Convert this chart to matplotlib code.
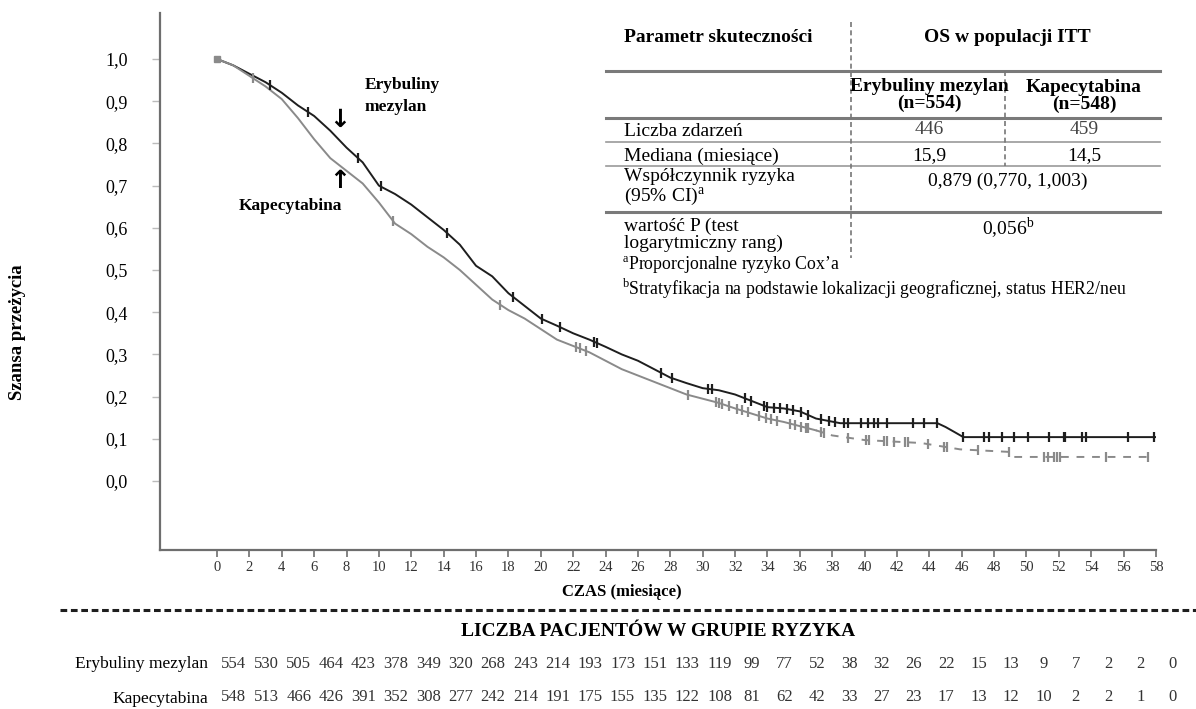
import numpy as np
import matplotlib
matplotlib.use("Agg")
import matplotlib.pyplot as plt
from matplotlib.lines import Line2D
from matplotlib.transforms import blended_transform_factory

plt.rcParams['font.family'] = ['Liberation Serif', 'DejaVu Serif']
plt.rcParams['mathtext.fontset'] = 'custom'
plt.rcParams['mathtext.rm'] = 'Liberation Serif'

# 1. Data
# Erybuliny mezylan (black)
eri_t = [0, 1, 2, 3, 4, 5, 6, 7, 8, 9, 10, 11, 12, 13, 14, 15, 16, 17, 18, 19,
         20, 21, 22, 23, 24, 25, 26, 27, 28, 29, 30, 31, 32, 33, 34, 35, 36, 37,
         38.5, 44.5, 45.0, 45.6, 46.1, 58]
eri_s = [1.0, 0.985, 0.965, 0.945, 0.92, 0.89, 0.865, 0.83, 0.79, 0.755, 0.70,
         0.68, 0.655, 0.625, 0.595, 0.56, 0.51, 0.485, 0.445, 0.415, 0.385, 0.368,
         0.35, 0.335, 0.318, 0.30, 0.285, 0.265, 0.245, 0.232, 0.22, 0.215, 0.205,
         0.19, 0.175, 0.172, 0.165, 0.148, 0.137, 0.137, 0.128, 0.115, 0.104, 0.104]
eri_cens = [3.3, 5.6, 8.7, 10.1, 14.2, 18.3, 20.1, 21.2, 23.3, 23.5, 27.4, 28.1,
            30.3, 30.6, 32.6, 33.0, 33.8, 34.0, 34.4, 34.8, 35.2, 35.6, 36.1, 36.5,
            37.3, 37.8, 38.2, 38.7, 39.0, 39.8, 40.2, 40.6, 40.8, 41.4, 43.0, 43.7,
            44.5, 46.1, 47.4, 47.7, 48.5, 49.2, 50.1, 51.4, 52.3, 52.4, 53.4, 53.7,
            56.3, 57.9]

# Kapecytabina (grey)
kap_t = [0, 1, 2, 3, 4, 5, 6, 7, 8, 9, 10, 11, 12, 13, 14, 15, 16, 17, 18, 19,
         20, 21, 22, 23, 24, 25, 26, 27, 28, 29, 30, 31, 32, 33, 34, 35, 36, 37,
         38, 40, 43.5, 45.9, 48.9, 49.2, 57.5]
kap_s = [1.0, 0.985, 0.96, 0.935, 0.905, 0.86, 0.81, 0.765, 0.735, 0.705, 0.66,
         0.61, 0.585, 0.555, 0.53, 0.50, 0.465, 0.43, 0.405, 0.385, 0.36, 0.335,
         0.32, 0.305, 0.285, 0.265, 0.25, 0.235, 0.22, 0.205, 0.195, 0.185, 0.172,
         0.16, 0.148, 0.14, 0.13, 0.12, 0.108, 0.097, 0.09, 0.075, 0.069, 0.057, 0.057]
kap_cens = [2.2, 10.9, 17.5, 22.2, 22.4, 22.8, 29.1, 30.8, 31.0, 31.2, 31.6, 32.1,
            32.4, 32.8, 33.5, 33.9, 34.2, 34.6, 35.4, 35.7, 36.1, 36.4, 36.5, 37.3,
            37.5, 39.0, 40.1, 40.3, 41.2, 41.4, 41.8, 42.5, 42.7, 43.9, 44.9, 45.1,
            47.0, 48.9, 51.1, 51.3, 51.7, 51.9, 52.1, 54.9, 57.5]

x_ticks = list(range(0, 60, 2))
y_ticks = [0.0, 0.1, 0.2, 0.3, 0.4, 0.5, 0.6, 0.7, 0.8, 0.9, 1.0]
y_labels = ['0,0', '0,1', '0,2', '0,3', '0,4', '0,5', '0,6', '0,7', '0,8', '0,9', '1,0']

risk_eri = [554, 530, 505, 464, 423, 378, 349, 320, 268, 243, 214, 193, 173, 151, 133,
            119, 99, 77, 52, 38, 32, 26, 22, 15, 13, 9, 7, 2, 2, 0]
risk_kap = [548, 513, 466, 426, 391, 352, 308, 277, 242, 214, 191, 175, 155, 135, 122,
            108, 81, 62, 42, 33, 27, 23, 17, 13, 12, 10, 2, 2, 1, 0]

BLACK = '#1e1e1e'
GREY = '#8a8a8a'
W, H = 1196, 709


def fx(px):
    return px / W


def fy(py):
    return 1 - py / H


# 2. Figure and axes
fig = plt.figure(figsize=(W / 100, H / 100), dpi=100)
ax = fig.add_axes([fx(160), fy(550), fx(1156) - fx(160), fy(13) - fy(550)])
ax.set_xlim(-3.52, 58)
ax.set_ylim(-0.1635, 1.109)

for side in ['top', 'right']:
    ax.spines[side].set_visible(False)
for side in ['left', 'bottom']:
    ax.spines[side].set_color('#6e6e6e')
    ax.spines[side].set_linewidth(1.6)

ax.set_xticks(x_ticks)
ax.set_xticklabels([str(v) for v in x_ticks], fontsize=10.5, color='#333333')
ax.set_yticks(y_ticks)
ax.set_yticklabels(y_labels, fontsize=13)
ax.tick_params(axis='x', direction='out', length=5, width=1.2, color='#6e6e6e', pad=3)
ax.tick_params(axis='y', direction='out', length=6, width=1.0, color='#bbbbbb', pad=17)

# 3. Curves
eri_t = np.array(eri_t)
eri_s = np.array(eri_s)
kap_t = np.array(kap_t)
kap_s = np.array(kap_s)

ax.plot(eri_t, eri_s, color=BLACK, lw=1.4)
solid = kap_t <= 37
dashed = kap_t >= 37
ax.plot(kap_t[solid], kap_s[solid], color=GREY, lw=1.4)
ax.plot(kap_t[dashed], kap_s[dashed], color=GREY, lw=1.4, ls=(0, (4, 4)))

ax.plot(eri_cens, np.interp(eri_cens, eri_t, eri_s), ls='none', marker='|',
        ms=7, mew=1.6, color=BLACK)
ax.plot(kap_cens, np.interp(kap_cens, kap_t, kap_s), ls='none', marker='|',
        ms=7, mew=1.6, color=GREY)
ax.plot([0], [1.0], ls='none', marker='s', ms=5, color=GREY)

# curve labels
ax.text(9.1, 0.912, 'Erybuliny\nmezylan', fontsize=12.5, fontweight='bold',
        ha='left', va='center', linespacing=1.45)
ax.text(7.6, 0.855, '\u2193', fontsize=18, fontweight='bold', ha='center',
        va='center', family=['DejaVu Sans'])
ax.text(7.6, 0.71, '\u2191', fontsize=18, fontweight='bold', ha='center',
        va='center', family=['DejaVu Sans'])
ax.text(7.7, 0.652, 'Kapecytabina', fontsize=12.5, fontweight='bold',
        ha='right', va='center')

# axis labels
fig.text(fx(18), fy(332), 'Szansa przeżycia', rotation=90, fontsize=13.5,
         fontweight='bold', ha='center', va='center')
fig.text(fx(622), fy(592), 'CZAS (miesiące)', fontsize=12, fontweight='bold',
         ha='center', va='center')

# 4. Efficacy table (figure coordinates)
def hline(y, x0, x1, lw, color='#7a7a7a', ls='-'):
    fig.add_artist(Line2D([fx(x0), fx(x1)], [fy(y), fy(y)], lw=lw, color=color,
                          ls=ls, transform=fig.transFigure))


def vline(x, y0, y1):
    fig.add_artist(Line2D([fx(x), fx(x)], [fy(y0), fy(y1)], lw=1.2, color='#777777',
                          ls=(0, (3, 2)), transform=fig.transFigure))


hline(71, 606, 1160, 2.2)
hline(118, 606, 1160, 2.2)
hline(142, 606, 1160, 1.2, '#9a9a9a')
hline(166, 606, 1160, 1.2, '#9a9a9a')
hline(212, 606, 1160, 2.2)
vline(851, 22, 258)
vline(1005, 71, 166)

tsize = 14
fig.text(fx(624), fy(38), 'Parametr skuteczności', fontsize=tsize, fontweight='bold',
         va='center')
fig.text(fx(1007), fy(38), 'OS w populacji ITT', fontsize=tsize, fontweight='bold',
         ha='center', va='center')
fig.text(fx(929), fy(95), 'Erybuliny mezylan\n(n=554)', fontsize=tsize,
         fontweight='bold', ha='center', va='center', linespacing=0.95)
fig.text(fx(1084), fy(96), 'Kapecytabina\n(n=548)', fontsize=tsize,
         fontweight='bold', ha='center', va='center', linespacing=0.95)
fig.text(fx(624), fy(132), 'Liczba zdarzeń', fontsize=tsize, va='center')
fig.text(fx(929), fy(130), '446', fontsize=tsize, ha='center', va='center', color='#444444')
fig.text(fx(1084), fy(130), '459', fontsize=tsize, ha='center', va='center', color='#444444')
fig.text(fx(624), fy(156), 'Mediana (miesiące)', fontsize=tsize, va='center')
fig.text(fx(929), fy(156), '15,9', fontsize=tsize, ha='center', va='center')
fig.text(fx(1084), fy(156), '14,5', fontsize=tsize, ha='center', va='center')
fig.text(fx(624), fy(188), 'Współczynnik ryzyka\n(95% CI)$^{\\mathrm{a}}$', fontsize=tsize,
         va='center', linespacing=1.0)
fig.text(fx(1008), fy(181), '0,879 (0,770, 1,003)', fontsize=tsize, ha='center',
         va='center')
fig.text(fx(624), fy(235), 'wartość P (test\nlogarytmiczny rang)', fontsize=tsize,
         va='center', linespacing=1.0)
fig.text(fx(1008), fy(228), '0,056$^{\\mathrm{b}}$', fontsize=tsize, ha='center',
         va='center')
fig.text(fx(622), fy(265), '$^{\\mathrm{a}}$Proporcjonalne ryzyko Cox\u2019a',
         fontsize=12.8, va='center')
fig.text(fx(622), fy(289), '$^{\\mathrm{b}}$Stratyfikacja na podstawie lokalizacji '
         'geograficznej, status HER2/neu', fontsize=12.8, va='center')

# 5. Number at risk
hline(610, 60, 1196, 2.2, BLACK, (0, (2.2, 1.2)))
fig.text(fx(658), fy(632), 'LICZBA PACJENTÓW W GRUPIE RYZYKA', fontsize=14,
         fontweight='bold', ha='center', va='center')

row = blended_transform_factory(ax.transData, fig.transFigure)
for i, n in enumerate(risk_eri):
    ax.text(x_ticks[i] + 1.05, fy(664), str(n), transform=row, fontsize=12,
            ha='center', va='center', color='#333333', clip_on=False)
for i, n in enumerate(risk_kap):
    ax.text(x_ticks[i] + 1.05, fy(697), str(n), transform=row, fontsize=12,
            ha='center', va='center', color='#333333', clip_on=False)
fig.text(fx(208), fy(664), 'Erybuliny mezylan', fontsize=12.5, ha='right', va='center')
fig.text(fx(208), fy(699), 'Kapecytabina', fontsize=12.5, ha='right', va='center')

fig.savefig('out.png', dpi=100)
